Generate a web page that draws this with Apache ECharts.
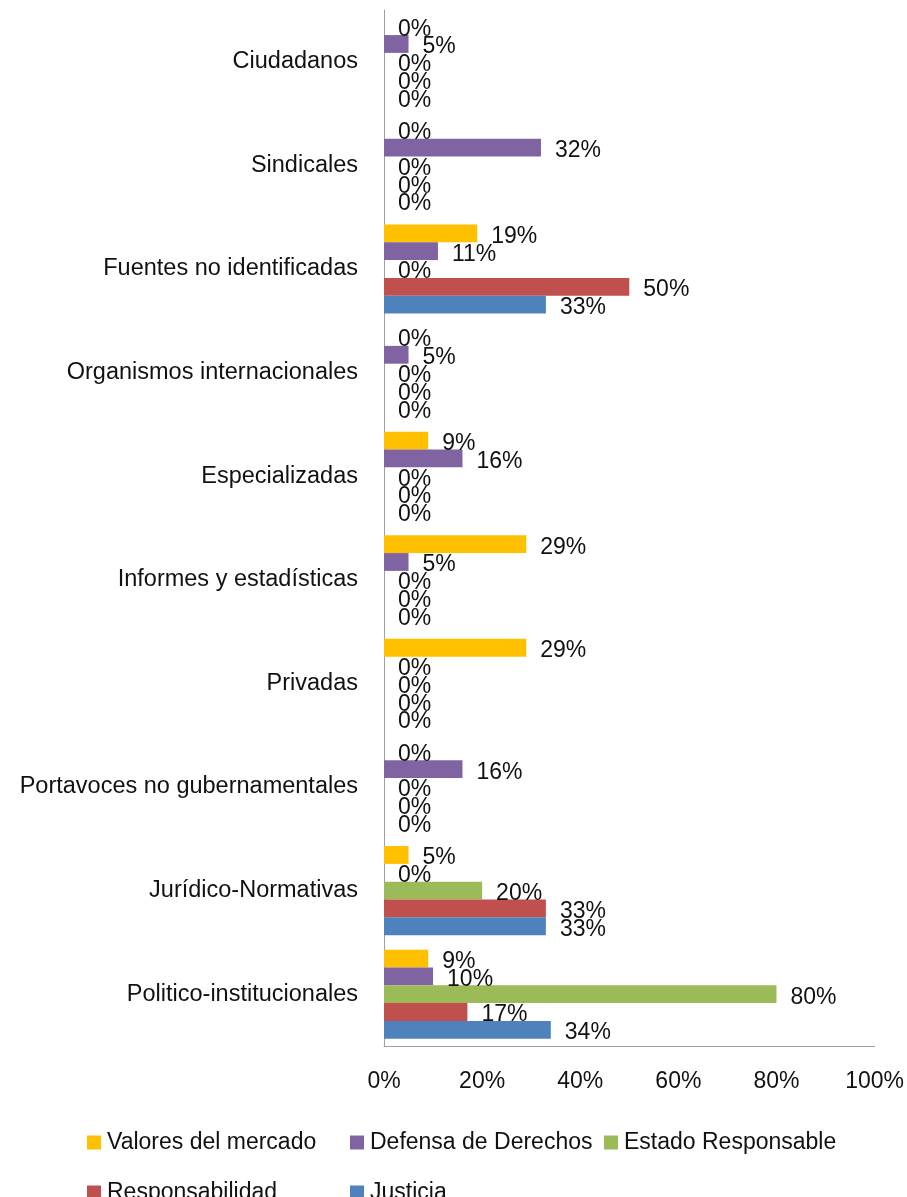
<!DOCTYPE html>
<html>
<head>
<meta charset="utf-8">
<script src="https://cdn.jsdelivr.net/npm/echarts@6/dist/echarts.min.js"></script>
<style>
  html, body { margin: 0; padding: 0; background: #fff; }
  #chart { width: 907px; height: 1197px; }
</style>
</head>
<body>
<div id="chart"></div>
<script>
// categorias (de abajo hacia arriba)
var categories = [
  'Politico-institucionales',
  'Jurídico-Normativas',
  'Portavoces no gubernamentales',
  'Privadas',
  'Informes y estadísticas',
  'Especializadas',
  'Organismos internacionales',
  'Fuentes no identificadas',
  'Sindicales',
  'Ciudadanos'
];

var valoresMercado   = [9, 5, 0, 29, 29, 9, 0, 19, 0, 0];
var defensaDerechos  = [10, 0, 16, 0, 5, 16, 5, 11, 32, 5];
var estadoResp       = [80, 20, 0, 0, 0, 0, 0, 0, 0, 0];
var responsabilidad  = [17, 33, 0, 0, 0, 0, 0, 50, 0, 0];
var justicia         = [34, 33, 0, 0, 0, 0, 0, 33, 0, 0];

var seriesNames = ['Valores del mercado', 'Defensa de Derechos', 'Estado Responsable', 'Responsabilidad', 'Justicia'];
var seriesColors = ['#FFC000', '#8064A2', '#9BBB59', '#C0504D', '#4F81BD'];
var seriesData = [valoresMercado, defensaDerechos, estadoResp, responsabilidad, justicia];

var font = 'Liberation Sans';
var fontSize = 23;
var textColor = '#111';

var chart = echarts.init(document.getElementById('chart'));

var series = [];
for (var i = 0; i < seriesNames.length; i++) {
  series.push({
    name: seriesNames[i],
    type: 'bar',
    data: seriesData[i],
    barGap: '0%',
    barCategoryGap: '14%',
    itemStyle: { color: seriesColors[i] },
    label: {
      show: true,
      position: 'right',
      distance: 14,
      offset: [0, 3],
      formatter: '{c}%',
      fontFamily: font,
      fontSize: fontSize,
      color: textColor
    }
  });
}

// leyenda en rejilla: 3 columnas, 2 filas
var legendCols = [82, 345, 599];
var legendRows = [1126, 1176];
var legends = [];
for (var k = 0; k < seriesNames.length; k++) {
  legends.push({
    data: [seriesNames[k]],
    left: legendCols[k % 3],
    top: legendRows[Math.floor(k / 3)],
    itemWidth: 14, itemHeight: 14,
    icon: 'rect',
    textStyle: { fontFamily: font, fontSize: fontSize, color: textColor, padding: [0, 0, 0, 1] }
  });
}

var option = {
  animation: false,
  grid: { left: 384, right: 32, top: 10, bottom: 151, containLabel: false },
  legend: legends,
  xAxis: {
    type: 'value',
    min: 0, max: 100, interval: 20,
    axisLine: { show: true, lineStyle: { color: '#a0a0a0' } },
    axisTick: { show: false },
    splitLine: { show: false },
    axisLabel: { formatter: '{value}%', fontFamily: font, fontSize: fontSize, color: textColor, margin: 24 }
  },
  yAxis: {
    type: 'category',
    data: categories,
    axisLine: { show: true, lineStyle: { color: '#a0a0a0' } },
    axisTick: { show: false },
    axisLabel: { fontFamily: font, fontSize: 23.5, color: textColor, margin: 26, padding: [5, 0, 0, 0] }
  },
  series: series
};

chart.setOption(option);
</script>
</body>
</html>
